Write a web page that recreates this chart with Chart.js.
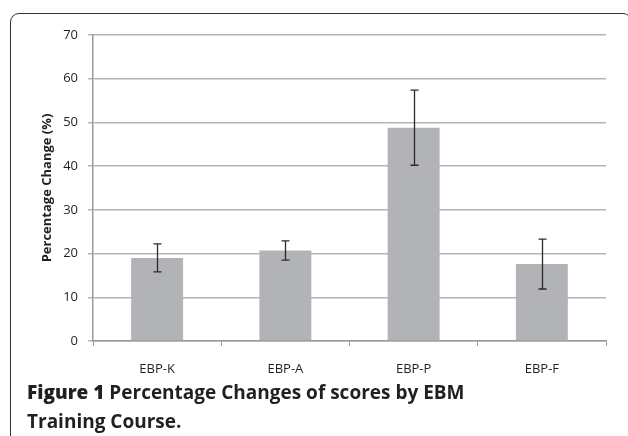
<!DOCTYPE html>
<html><head><meta charset="utf-8">
<script src="https://cdn.jsdelivr.net/npm/chart.js@4.4.1/dist/chart.umd.min.js"></script>
<style>
html,body{margin:0;padding:0;background:#fff;width:628px;height:436px;overflow:hidden;position:relative;}
#frame{position:absolute;left:10px;top:13px;width:622px;height:500px;border:1.5px solid #333;border-radius:9px;box-sizing:border-box;}
#wrap{position:absolute;left:0;top:0;width:628px;height:390px;}
#cap{position:absolute;left:27px;top:378px;font-family:"Open Sans",sans-serif;font-size:19px;line-height:29px;color:#231f20;letter-spacing:0px;font-weight:700;white-space:nowrap;}
#cap b{font-weight:800;}
</style></head><body>
<div id="frame"></div>
<div id="wrap"><canvas id="c" width="628" height="390"></canvas></div>
<div id="cap"><b>Figure 1</b> Percentage Changes of scores by EBM<br>Training Course.</div>
<script>
const categories = ["EBP-K","EBP-A","EBP-P","EBP-F"];
const values = [19.0, 20.7, 48.8, 17.6];
const errors = [3.2, 2.2, 8.6, 5.7];
const yTicks = [0,10,20,30,40,50,60,70];

const errorBarPlugin = {
  id:'errbars',
  afterDatasetsDraw(chart){
    const ctx = chart.ctx, xs = chart.scales.x, ys = chart.scales.y;
    ctx.save();
    ctx.strokeStyle = '#2b2b2b';
    ctx.lineWidth = 1.3;
    values.forEach((v,i)=>{
      const x = Math.round(xs.getPixelForValue(i))+0.5;
      const yt = ys.getPixelForValue(v+errors[i]);
      const yb = ys.getPixelForValue(v-errors[i]);
      ctx.beginPath();
      ctx.moveTo(x,yt); ctx.lineTo(x,yb);
      ctx.moveTo(x-4,yt); ctx.lineTo(x+4,yt);
      ctx.moveTo(x-4,yb); ctx.lineTo(x+4,yb);
      ctx.stroke();
    });
    ctx.restore();
  }
};

new Chart(document.getElementById('c'),{
  type:'bar',
  data:{labels:categories,datasets:[{data:values,backgroundColor:'#b2b3b6',barPercentage:0.405,categoryPercentage:1}]},
  options:{
    responsive:false,animation:false,
    layout:{padding:{left:0,right:22,top:35,bottom:0}},
    plugins:{legend:{display:false},tooltip:{enabled:false}},
    scales:{
      x:{
        grid:{display:true,drawOnChartArea:false,drawTicks:true,tickLength:5,color:'#9a9a9a',offset:true},
        border:{color:'#9a9a9a',width:1.5},
        ticks:{color:'#231f20',font:{family:'Open Sans',size:13},padding:15},
        afterFit(s){s.height=49;}
      },
      y:{
        min:0,max:70,
        afterBuildTicks(s){s.ticks=yTicks.map(v=>({value:v}));},
        grid:{color:'#b5b5b5',lineWidth:1.5,tickLength:5,drawTicks:true},
        border:{color:'#9a9a9a',width:1.5},
        ticks:{color:'#231f20',font:{family:'Open Sans',size:13},padding:10},
        title:{display:true,text:'Percentage Change (%)',color:'#231f20',font:{family:'Open Sans',size:13,weight:'bold'},padding:{top:39,bottom:0}},
        afterFit(s){s.width=93;}
      }
    }
  },
  plugins:[errorBarPlugin]
});
</script>
</body></html>
